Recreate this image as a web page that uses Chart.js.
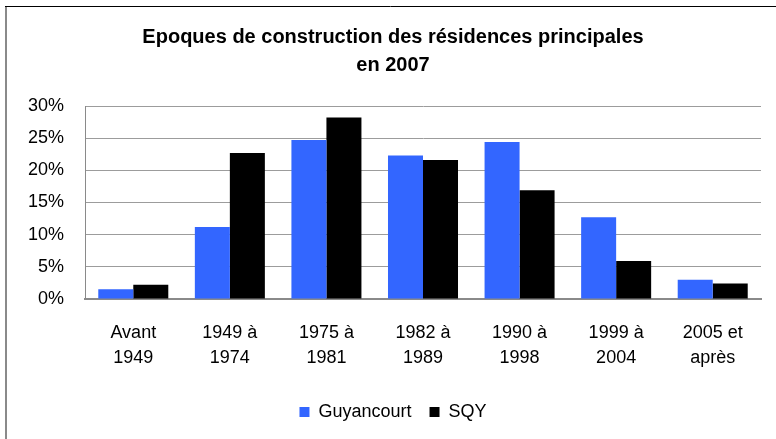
<!DOCTYPE html>
<html>
<head>
<meta charset="utf-8">
<script src="https://cdn.jsdelivr.net/npm/chart.js@4/dist/chart.umd.min.js"></script>
<style>
  html, body { margin: 0; padding: 0; background: #fff; }
  #wrap { width: 776px; height: 439px; position: relative; }
</style>
</head>
<body>
<div id="wrap"><canvas id="chart"></canvas></div>
<script>
// données
const categories = [["Avant", "1949"], ["1949 à", "1974"], ["1975 à", "1981"], ["1982 à", "1989"],
    ["1990 à", "1998"], ["1999 à", "2004"], ["2005 et", "après"]];
const guyancourt = [1.5, 11.2, 24.7, 22.3, 24.4, 12.7, 3.0];
const sqy = [2.2, 22.7, 28.2, 21.6, 16.9, 5.9, 2.4];
const yTicks = [0, 5, 10, 15, 20, 25, 30];

const FONT = "'Liberation Sans', Arial, sans-serif";

// cadre du graphique (bord gauche et haut)
const frame = {
    id: "frame",
    afterDraw(c) {
        const ctx = c.ctx;
        ctx.save();
        ctx.strokeStyle = "#8a8a8a";
        ctx.lineWidth = 2;
        ctx.beginPath();
        ctx.moveTo(6, 6);
        ctx.lineTo(6, 439);
        ctx.stroke();
        ctx.strokeStyle = "#000";
        ctx.lineWidth = 1;
        ctx.beginPath();
        ctx.moveTo(5, 6.5);
        ctx.lineTo(776, 6.5);
        ctx.stroke();
        ctx.restore();
    }
};

Chart.defaults.font.family = FONT;
Chart.defaults.color = "#000";

new Chart(document.getElementById("chart"), {
    type: "bar",
    data: {
        labels: categories,
        datasets: [
            { label: "Guyancourt", data: guyancourt, backgroundColor: "#3366FF" },
            { label: "SQY", data: sqy, backgroundColor: "#000000" }
        ]
    },
    options: {
        responsive: true,
        maintainAspectRatio: false,
        animation: false,
        categoryPercentage: 0.725,
        barPercentage: 1,
        layout: { padding: { left: 25, right: 15, top: 0, bottom: 8 } },
        plugins: {
            title: {
                display: true,
                text: ["Epoques de construction des résidences principales", "en 2007"],
                font: { size: 20, weight: "bold", lineHeight: "28.5px" },
                color: "#000",
                padding: { top: 23, bottom: 26 }
            },
            legend: {
                position: "bottom",
                labels: {
                    boxWidth: 10,
                    boxHeight: 10,
                    padding: 18,
                    font: { size: 18 },
                    color: "#000"
                }
            },
            tooltip: { enabled: false }
        },
        scales: {
            x: {
                grid: { display: false, drawTicks: false },
                border: { display: true, color: "#8a8a8a", width: 2 },
                ticks: { padding: 22, font: { size: 18, lineHeight: "25px" }, maxRotation: 0, autoSkip: false },
                afterFit(s) { s.height = 86; }
            },
            y: {
                min: 0,
                max: 30,
                afterBuildTicks(s) { s.ticks = yTicks.map(v => ({ value: v })); },
                grid: { color: "#9c9c9c", drawTicks: false },
                border: { display: true, color: "#8a8a8a", width: 1 },
                ticks: { padding: 21, font: { size: 18 }, callback: v => v + "%" },
                afterFit(s) { s.width = 60; }
            }
        }
    },
    plugins: [frame]
});
</script>
</body>
</html>
